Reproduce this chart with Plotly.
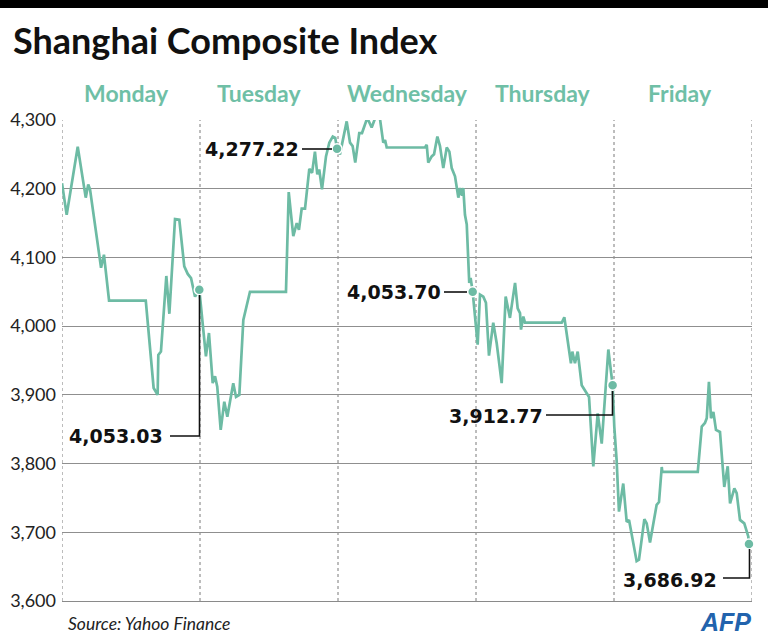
import plotly.graph_objects as go

# ---------------- data ----------------
days = ["Monday", "Tuesday", "Wednesday", "Thursday", "Friday"]
day_label_pos = [0.464, 1.428, 2.5, 3.486, 4.478]

mon_t = [0, 0.034, 0.114, 0.172, 0.19, 0.203, 0.283, 0.304, 0.341, 0.607, 0.664, 0.693, 0.698,
         0.717, 0.756, 0.778, 0.819, 0.85, 0.886, 0.911, 0.935, 0.964, 0.995]
mon_v = [4208, 4162, 4261, 4187, 4206, 4199, 4085, 4104, 4037, 4037, 3910, 3900, 3958,
         3963, 4073, 4018, 4156, 4155, 4087, 4076, 4070, 4043, 4053]

tue_t = [1.0, 1.020, 1.043, 1.065, 1.092, 1.109, 1.125, 1.150, 1.176, 1.198, 1.241, 1.261, 1.285,
         1.314, 1.362, 1.623, 1.643, 1.676, 1.701, 1.717, 1.737, 1.761, 1.792, 1.812, 1.833, 1.850,
         1.864, 1.884, 1.913, 1.937, 1.962, 1.980, 1.993]
tue_v = [4043, 4004, 3956, 3990, 3917, 3927, 3912, 3849, 3890, 3868, 3917, 3897, 3900,
         4009, 4050, 4050, 4195, 4131, 4150, 4140, 4171, 4171, 4229, 4223, 4254, 4221,
         4228, 4199, 4247, 4267, 4276, 4274, 4258]

wed_t = [2.014, 2.063, 2.087, 2.106, 2.125, 2.154, 2.174, 2.212, 2.244, 2.268, 2.304, 2.328, 2.341,
         2.353, 2.630, 2.643, 2.654, 2.679, 2.696, 2.720, 2.739, 2.763, 2.788, 2.807, 2.824, 2.848,
         2.872, 2.884, 2.899, 2.908, 2.920, 2.933, 2.951, 2.961, 2.976]
wed_v = [4250, 4298, 4267, 4262, 4238, 4281, 4281, 4303, 4289, 4302, 4302, 4267, 4271,
         4260, 4260, 4264, 4238, 4247, 4250, 4276, 4262, 4230, 4260, 4254, 4230, 4218,
         4187, 4201, 4190, 4201, 4162, 4148, 4063, 4070, 4050]

thu_t = [3.012, 3.029, 3.053, 3.072, 3.094, 3.125, 3.150, 3.186, 3.215, 3.246, 3.283, 3.302, 3.319,
         3.326, 3.343, 3.355, 3.621, 3.640, 3.669, 3.688, 3.698, 3.717, 3.737, 3.766, 3.819, 3.850,
         3.882, 3.911, 3.959, 3.983, 3.990]
thu_v = [3973, 4046, 4043, 4034, 3957, 4005, 3975, 3917, 4043, 4012, 4063, 4026, 4019,
         3995, 4014, 4005, 4005, 4013, 3973, 3946, 3963, 3946, 3963, 3914, 3897, 3796,
         3873, 3829, 3966, 3931, 3914]

fri_t = [4.002, 4.019, 4.036, 4.067, 4.092, 4.109, 4.164, 4.181, 4.220, 4.237, 4.261, 4.309, 4.326,
         4.346, 4.350, 4.607, 4.636, 4.659, 4.672, 4.688, 4.703, 4.720, 4.739, 4.768, 4.799, 4.824,
         4.841, 4.872, 4.889, 4.913, 4.944, 4.973, 4.978]
fri_v = [3854, 3805, 3730, 3771, 3715, 3718, 3658, 3660, 3719, 3713, 3685, 3740, 3744,
         3795, 3788, 3788, 3854, 3859, 3866, 3919, 3866, 3875, 3849, 3846, 3766, 3796,
         3742, 3764, 3757, 3718, 3713, 3694, 3683]

callout_t = [0.995, 1.993, 2.976, 3.990, 4.978]
callout_v = [4053, 4258, 4050, 3914, 3683]
callout_label = ["4,053.03", "4,277.22", "4,053.70", "3,912.77", "3,686.92"]

y_ticks = [3600, 3700, 3800, 3900, 4000, 4100, 4200, 4300]
y_tick_labels = ["3,600", "3,700", "3,800", "3,900", "4,000", "4,100", "4,200", "4,300"]

# ---------------- layout geometry ----------------
W, H = 768, 644
L, R, T, B = 62, 16, 120, 43
PW, PH = W - L - R, H - T - B

def pxx(x):
    return (x - L) / PW

def pxy(y):
    return (H - B - y) / PH

TEAL = "#6dbba4"
TEAL_TXT = "#6fbfa6"

t_all = mon_t + tue_t + wed_t + thu_t + fri_t
v_all = mon_v + tue_v + wed_v + thu_v + fri_v

fig = go.Figure()
fig.add_trace(go.Scatter(x=t_all, y=v_all, mode="lines",
                         line=dict(color=TEAL, width=2.7), hoverinfo="skip",
                         showlegend=False))
fig.add_trace(go.Scatter(x=callout_t, y=callout_v, mode="markers",
                         marker=dict(color=TEAL, size=10, line=dict(color="white", width=1.5)),
                         showlegend=False, cliponaxis=False, hoverinfo="skip"))

shapes = []
# top black bar
shapes.append(dict(type="rect", xref="paper", yref="paper", x0=pxx(0), x1=pxx(W),
                   y0=pxy(8), y1=pxy(-2), fillcolor="black", line=dict(width=0), layer="above"))
# day separators (dotted)
for d in range(6):
    shapes.append(dict(type="line", xref="x", yref="paper", x0=d, x1=d, y0=0, y1=1,
                       line=dict(color="#7a7a7a", width=1, dash="dot"), layer="below"))

# callout connectors (pixel layout)
conn = [
    [(170, 436), (199.5, 436), (199.5, 295)],
    [(302, 149), (332, 149)],
    [(444, 292), (467, 292)],
    [(546, 415), (612.5, 415), (612.5, 391)],
    [(723, 578), (749.5, 578), (749.5, 549)],
]
for pts in conn:
    path = "M " + " L ".join(f"{pxx(x):.5f},{pxy(y):.5f}" for x, y in pts)
    shapes.append(dict(type="path", xref="paper", yref="paper", path=path,
                       line=dict(color="#111", width=1.6), layer="above"))

annotations = []
annotations.append(dict(xref="paper", yref="paper", x=pxx(11), y=pxy(40), xanchor="left",
                        yanchor="middle", showarrow=False,
                        text="<b>Shanghai Composite Index</b>",
                        font=dict(family="Lato", size=36, color="#111")))
for name, pos in zip(days, day_label_pos):
    annotations.append(dict(xref="x", yref="paper", x=pos, y=pxy(93), xanchor="center",
                            yanchor="middle", showarrow=False, text=f"<b>{name}</b>",
                            font=dict(family="Lato", size=23, color=TEAL_TXT)))
label_pos = [(165, 436), (301, 149), (443, 292), (545, 416), (719, 580)]
for lab, (x, y) in zip(callout_label, label_pos):
    annotations.append(dict(xref="paper", yref="paper", x=pxx(x), y=pxy(y), xanchor="right",
                            yanchor="middle", showarrow=False, text=f"<b>{lab}</b>",
                            font=dict(family="DejaVu Sans", size=19, color="#111")))
annotations.append(dict(xref="paper", yref="paper", x=pxx(66), y=pxy(623), xanchor="left",
                        yanchor="middle", showarrow=False, text="<i>Source: Yahoo Finance</i>",
                        font=dict(family="Lato", size=17.5, color="#222")))
annotations.append(dict(xref="paper", yref="paper", x=pxx(753), y=pxy(622), xanchor="right",
                        yanchor="middle", showarrow=False, text="<b><i>AFP</i></b>",
                        font=dict(family="Liberation Sans", size=25, color="#2263ad")))

fig.update_layout(
    width=W, height=H,
    margin=dict(l=L, r=R, t=T, b=B, autoexpand=False),
    paper_bgcolor="white", plot_bgcolor="white",
    shapes=shapes, annotations=annotations,
    xaxis=dict(range=[0, 5], showgrid=False, zeroline=False, showticklabels=False,
               showline=True, linecolor="#8a8a8a", linewidth=1, fixedrange=True),
    yaxis=dict(range=[3600, 4300], tickvals=y_ticks, ticktext=y_tick_labels,
               showgrid=True, gridcolor="#8f8f8f", gridwidth=1, zeroline=False,
               ticks="", ticklabelstandoff=5, showline=False,
               tickfont=dict(family="Lato", size=18, color="#222"), fixedrange=True),
)

fig.write_html("out.html")
